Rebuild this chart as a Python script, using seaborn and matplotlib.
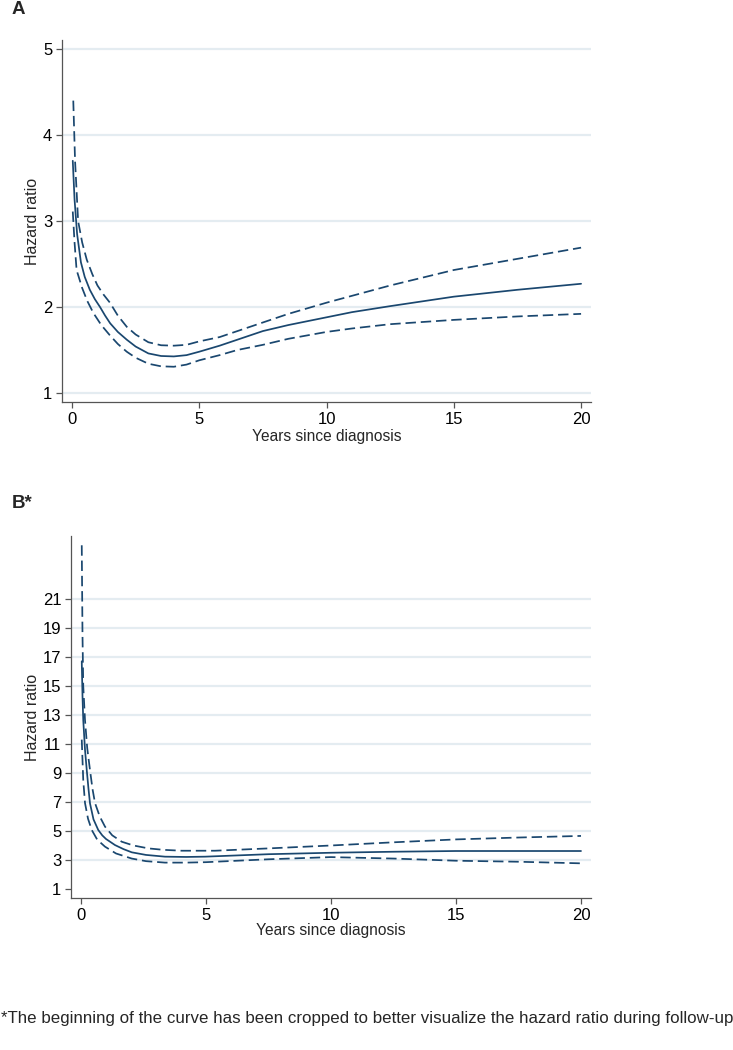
import numpy as np
import pandas as pd
import seaborn as sns
from matplotlib import pyplot as plt

# ---- Panel A: hazard ratio over follow-up ----
a_years = [0.03, 0.1, 0.2, 0.35, 0.5, 0.7, 0.9, 1.1, 1.3, 1.5, 1.8, 2.15, 2.5,
           3.0, 3.5, 4.0, 4.5, 5.0, 5.8, 6.5, 7.5, 8.5, 10.0, 11.0, 12.5,
           15.0, 17.5, 20.0]
a_hr = [3.70, 3.25, 2.85, 2.52, 2.35, 2.20, 2.09, 2.00, 1.90, 1.81, 1.71, 1.62, 1.54,
        1.46, 1.43, 1.425, 1.44, 1.48, 1.55, 1.62, 1.72, 1.79, 1.88, 1.94, 2.01,
        2.12, 2.20, 2.27]

a_up_years = [0.05, 0.12, 0.24, 0.4, 0.58, 0.8, 1.0, 1.25, 1.49, 1.8, 2.15, 2.5,
              3.0, 3.5, 4.0, 4.5, 5.0, 5.8, 6.5, 7.5, 8.5, 10.0, 11.0, 12.5,
              15.0, 17.5, 20.0]
a_up = [4.40, 3.70, 3.00, 2.75, 2.55, 2.38, 2.25, 2.14, 2.05, 1.90, 1.77, 1.68,
        1.59, 1.555, 1.55, 1.56, 1.60, 1.65, 1.72, 1.82, 1.92, 2.05, 2.13, 2.25,
        2.43, 2.56, 2.69]

a_lo_years = [0.03, 0.1, 0.18, 0.4, 0.6, 0.84, 1.15, 1.49, 1.8, 2.15, 2.5,
              3.0, 3.5, 4.0, 4.5, 5.0, 5.8, 6.5, 7.5, 8.5, 10.0, 11.0, 12.5,
              15.0, 17.5, 20.0]
a_lo = [3.11, 2.75, 2.43, 2.22, 2.07, 1.93, 1.79, 1.67, 1.57, 1.48, 1.41,
        1.34, 1.31, 1.305, 1.33, 1.38, 1.44, 1.50, 1.56, 1.63, 1.71, 1.75, 1.80,
        1.85, 1.89, 1.92]

# ---- Panel B (start of curve cropped) ----
b_years = [0.03, 0.06, 0.09, 0.16, 0.23, 0.3, 0.36, 0.5, 0.69, 0.85, 1.0, 1.36,
           1.7, 2.03, 2.6, 3.36, 4.2, 4.96, 7.5, 10.0, 12.5, 15.0, 17.5, 20.0]
b_hr = [16.7, 14.3, 12.65, 10.6, 9.2, 7.9, 6.9, 5.8, 5.07, 4.7, 4.45, 4.03,
        3.75, 3.53, 3.35, 3.23, 3.21, 3.23, 3.40, 3.50, 3.57, 3.62, 3.62, 3.62]

b_up_years = [0.03, 0.06, 0.09, 0.16, 0.25, 0.36, 0.46, 0.56, 0.75, 0.96, 1.25,
              1.63, 2.1, 2.7, 3.3, 4.03, 5.36, 7.5, 10.0, 12.5, 15.0, 17.5, 20.0]
b_up = [24.7, 18.5, 15.0, 12.65, 10.7, 9.2, 7.9, 6.93, 6.0, 5.3, 4.7,
        4.26, 4.00, 3.80, 3.70, 3.64, 3.64, 3.80, 4.00, 4.22, 4.42, 4.55, 4.66]

b_lo_years = [0.03, 0.09, 0.16, 0.28, 0.43, 0.65, 0.96, 1.4, 2.03, 2.6, 3.36,
              4.2, 5.0, 7.5, 10.0, 12.5, 15.0, 17.5, 20.0]
b_lo = [11.3, 8.5, 6.93, 5.85, 5.07, 4.4, 3.92, 3.45, 3.10, 2.92, 2.82,
        2.82, 2.85, 3.05, 3.20, 3.10, 2.95, 2.88, 2.77]

a_yticks = [1, 2, 3, 4, 5]
b_yticks = [1, 3, 5, 7, 9, 11, 13, 15, 17, 19, 21]
xticks = [0, 5, 10, 15, 20]

NAVY = '#1a476f'
GRID = '#e4ecf1'

sns.set_style('white')
plt.rcParams['font.family'] = ['Liberation Sans', 'DejaVu Sans']

W, H = 733, 1050
fig = plt.figure(figsize=(W / 100, H / 100), dpi=100)


def px_axes(left, top, right, bottom):
    return fig.add_axes([left / W, 1 - bottom / H, (right - left) / W, (bottom - top) / H])


def draw_panel(ax, est, upper, lower, yticks, xlim, ylim, skip_first_grid=False):
    for ys in yticks:
        if skip_first_grid and ys == yticks[0]:
            continue
        ax.axhline(ys, color=GRID, lw=1.6, zorder=0)

    df_est = pd.DataFrame({'years': est[0], 'hr': est[1]})
    df_up = pd.DataFrame({'years': upper[0], 'hr': upper[1]})
    df_lo = pd.DataFrame({'years': lower[0], 'hr': lower[1]})

    sns.lineplot(data=df_est, x='years', y='hr', color=NAVY, lw=1.25,
                 sort=False, estimator=None, ax=ax)
    for d in (df_up, df_lo):
        sns.lineplot(data=d, x='years', y='hr', color=NAVY, lw=1.25,
                     linestyle=(0, (6, 2.8)), sort=False, estimator=None, ax=ax)

    ax.set_xlim(*xlim)
    ax.set_ylim(*ylim)
    ax.set_xticks(xticks)
    ax.set_yticks(yticks)
    ax.spines[['top', 'right']].set_visible(False)
    for s in ('left', 'bottom'):
        ax.spines[s].set_color('#555555')
        ax.spines[s].set_linewidth(0.9)
    ax.tick_params(axis='both', direction='out', length=4, width=0.9,
                   color='#555555', labelsize=12, pad=3, labelcolor='black')
    ax.tick_params(axis='both', which='both', bottom=True, left=True)
    ax.set_ylabel('Hazard ratio', fontsize=11.5, labelpad=2)
    ax.set_xlabel('Years since diagnosis', fontsize=11.2, labelpad=1.5)


axA = px_axes(62, 40, 591, 402)
draw_panel(axA, (a_years, a_hr), (a_up_years, a_up), (a_lo_years, a_lo),
           a_yticks, (-0.393, 20.39), (0.895, 5.105))

axB = px_axes(71, 536, 591, 898)
draw_panel(axB, (b_years, b_hr), (b_up_years, b_up), (b_lo_years, b_lo),
           b_yticks, (-0.4, 20.4), (0.38, 25.34), skip_first_grid=True)
axB.xaxis.labelpad = 0

fig.text(12 / W, 1 - 9 / H, 'A', fontsize=13.5, fontweight='bold', va='center', ha='left')
fig.text(12 / W, 1 - 504 / H, 'B*', fontsize=13.5, fontweight='bold', va='center', ha='left')
fig.text(1 / W, 1 - 1018 / H,
         '*The beginning of the curve has been cropped to better visualize the hazard ratio during follow-up',
         fontsize=12.2, va='center', ha='left')

fig.savefig('out.png', dpi=100)
